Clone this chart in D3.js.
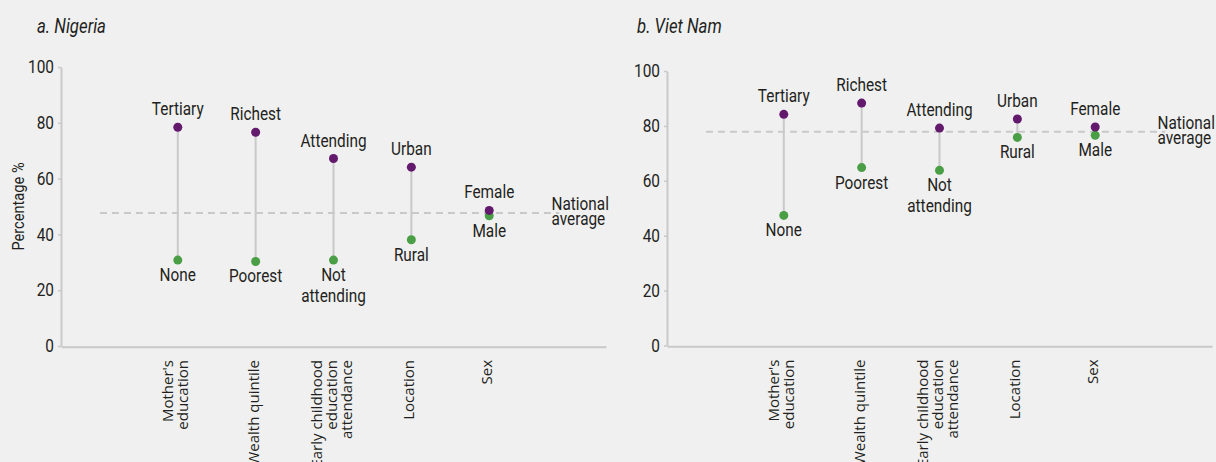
<!DOCTYPE html>
<html>
<head>
<meta charset="utf-8">
<script src="https://cdn.jsdelivr.net/npm/d3@7"></script>
<style>
  html, body { margin: 0; padding: 0; background: #f0f0f0; }
  svg { display: block; }
  .cond { font-family: Roboto, "Liberation Sans", sans-serif; }
  .cat { font-family: "Open Sans", "Noto Sans", sans-serif; }
</style>
</head>
<body>
<svg id="chart" width="1216" height="462"></svg>
<script>
// Dimensions of early childhood development: gaps between advantaged and disadvantaged groups
const categories = ["Mother's education", "Wealth quintile", "Early childhood education attendance", "Location", "Sex"];
const categoryLines = [["Mother's", "education"], ["Wealth quintile"], ["Early childhood", "education", "attendance"], ["Location"], ["Sex"]];
const highLabels = ["Tertiary", "Richest", "Attending", "Urban", "Female"];
const lowLabels = [["None"], ["Poorest"], ["Not", "attending"], ["Rural"], ["Male"]];

const nigeriaHigh = [78.4, 76.6, 67.2, 64.1, 48.6];
const nigeriaLow = [30.8, 30.3, 30.8, 38.1, 46.7];
const nigeriaAverage = 47.7;

const vietnamHigh = [84.2, 88.3, 79.2, 82.5, 79.6];
const vietnamLow = [47.4, 64.8, 63.8, 75.8, 76.6];
const vietnamAverage = 77.9;

const yTicks = [0, 20, 40, 60, 80, 100];

const panels = [
  { title: "a. Nigeria", high: nigeriaHigh, low: nigeriaLow, avg: nigeriaAverage,
    titleX: 37, x0: 61, x1: 606, yTop: 67, yBottom: 346, yLabel: "Percentage %" },
  { title: "b. Viet Nam", high: vietnamHigh, low: vietnamLow, avg: vietnamAverage,
    titleX: 637, x0: 667, x1: 1212, yTop: 71, yBottom: 345.5, yLabel: null }
];

const COLORS = { high: "#63196c", low: "#4a9e45", axis: "#c9c9c9", text: "#231f20" };
const NARROW = 0.83; // horizontal squeeze giving the condensed lettering

const svg = d3.select("#chart");

// Condensed text block: one or more lines, anchored at (x, y) for the first baseline
function condText(parent, x, y, lines, opts = {}) {
  const size = opts.size || 18;
  const lh = opts.lh || 21;
  const sx = opts.sx || NARROW;
  const t = parent.append("text").attr("class", "cond")
    .attr("transform", `translate(${x},${y}) scale(${sx},1)`)
    .attr("text-anchor", opts.anchor || "middle")
    .attr("font-size", size)
    .attr("fill", COLORS.text);
  if (opts.italic) t.attr("font-style", "italic");
  [].concat(lines).forEach((ln, j) => {
    t.append("tspan").attr("x", 0).attr("y", j * lh).text(ln);
  });
  return t;
}

panels.forEach(p => {
  const g = svg.append("g");

  const x = d3.scalePoint().domain(categories).range([p.x0, p.x1]).padding(1.5);
  const y = d3.scaleLinear().domain([0, 100]).range([p.yBottom, p.yTop]);
  const step = x.step();

  // Panel title
  condText(g, p.titleX, 33, p.title, { size: 20, anchor: "start", italic: true, sx: 0.84 });

  // Y axis
  const yAxis = g.append("g").attr("transform", `translate(${p.x0},0)`)
    .call(d3.axisLeft(y).tickValues(yTicks).tickSize(3).tickPadding(5).tickSizeOuter(0));
  yAxis.select(".domain").attr("stroke", COLORS.axis).attr("stroke-width", 2);
  yAxis.selectAll(".tick line").attr("stroke", COLORS.axis).attr("stroke-width", 1.5);
  yAxis.selectAll(".tick text")
    .attr("class", "cond").attr("font-size", 17.5).attr("fill", COLORS.text)
    .attr("transform", "scale(0.88,1)");

  if (p.yLabel) {
    g.append("text").attr("class", "cond")
      .attr("transform", `translate(24,${(p.yTop + p.yBottom) / 2}) rotate(-90) scale(0.86,1)`)
      .attr("text-anchor", "middle").attr("font-size", 17)
      .attr("fill", COLORS.text).text(p.yLabel);
  }

  // X axis baseline
  const xAxis = g.append("g").attr("transform", `translate(0,${p.yBottom + 0.7})`)
    .call(d3.axisBottom(x).tickSize(0).tickFormat(""));
  xAxis.select(".domain").attr("stroke", COLORS.axis).attr("stroke-width", 2);

  // Rotated category labels
  const lh = 15;
  categories.forEach((c, i) => {
    const lines = categoryLines[i];
    const cx = x(c) - 2;
    const t = g.append("text").attr("class", "cat")
      .attr("transform", `translate(${cx},${p.yBottom + 14}) rotate(-90)`)
      .attr("text-anchor", "end").attr("font-size", 15).attr("fill", COLORS.text);
    lines.forEach((ln, j) => {
      t.append("tspan").attr("x", 0)
        .attr("y", (j - (lines.length - 1) / 2) * lh + 5)
        .text(ln);
    });
  });

  // National average
  const ay = y(p.avg);
  g.append("line")
    .attr("x1", p.x0 + step * 0.5).attr("x2", p.x1 - step * 0.6)
    .attr("y1", ay).attr("y2", ay)
    .attr("stroke", COLORS.axis).attr("stroke-width", 2)
    .attr("stroke-dasharray", "7,5");
  condText(g, p.x1 - step * 0.7, ay - 3, ["National", "average"], { anchor: "start", lh: 15.5, size: 18.5 });

  // Stems
  g.selectAll(".stem").data(categories).join("line")
    .attr("x1", d => x(d)).attr("x2", d => x(d))
    .attr("y1", (d, i) => y(p.high[i])).attr("y2", (d, i) => y(p.low[i]))
    .attr("stroke", COLORS.axis).attr("stroke-width", 2);

  // Dots
  g.selectAll(".low").data(categories).join("circle")
    .attr("cx", d => x(d)).attr("cy", (d, i) => y(p.low[i]))
    .attr("r", 4.5).attr("fill", COLORS.low);
  g.selectAll(".high").data(categories).join("circle")
    .attr("cx", d => x(d)).attr("cy", (d, i) => y(p.high[i]))
    .attr("r", 4.5).attr("fill", COLORS.high);

  // Group labels
  categories.forEach((c, i) => {
    condText(g, x(c), y(p.high[i]) - 12, highLabels[i], { size: 18.5 });
    condText(g, x(c), y(p.low[i]) + 21, lowLabels[i], { size: 18.5, lh: 21 });
  });
});
</script>
</body>
</html>
